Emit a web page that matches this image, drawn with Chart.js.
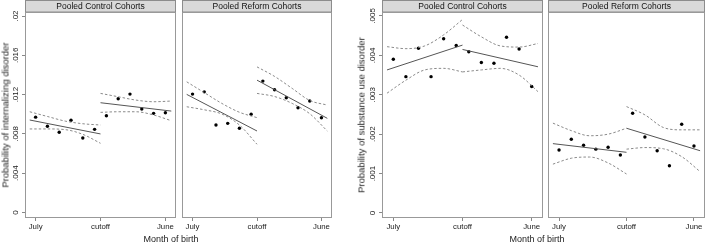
<!DOCTYPE html>
<html>
<head>
<meta charset="utf-8">
<script src="https://cdn.jsdelivr.net/npm/chart.js@4"></script>
<style>
  body { margin: 0; background: #fff; }
  #wrap { position: relative; width: 709px; height: 243px; font-family: "Liberation Sans", Arial, sans-serif; }
  #wrap canvas { position: absolute; left: 0; top: 0; }
  .ttl { position: absolute; font-size: 9px; color: #222; white-space: nowrap; transform: translate(-50%, -50%); }
  .rot { transform: translate(-50%, -50%) rotate(-90deg); font-size: 9.5px; }
</style>
</head>
<body>
<div id="wrap">
  <canvas id="c1" width="709" height="243"></canvas>
  <canvas id="c2" width="709" height="243"></canvas>
  <canvas id="c3" width="709" height="243"></canvas>
  <canvas id="c4" width="709" height="243"></canvas>
  <div class="ttl rot" style="left:5px; top:115px;">Probability of internalizing disorder</div>
  <div class="ttl rot" style="left:361px; top:115px;">Probability of substance use disorder</div>
  <div class="ttl" style="left:171px; top:239px;">Month of birth</div>
  <div class="ttl" style="left:537px; top:239px;">Month of birth</div>
</div>
<script>
// months: July = 1 ... June = 12, cutoff between Dec and Jan
const months = [1, 2, 3, 4, 5, 6, 7, 8, 9, 10, 11, 12];
const xTickVals = [1, 6.5, 12];
const xTickLabels = ['July', 'cutoff', 'June'];

// x positions where fit lines / confidence bands were read
const fitX1 = [0.5, 6.5];
const fitX2 = [6.5, 12.5];
const bandX1 = [0.5, 2, 3.5, 5, 6.5];
const bandX2 = [6.5, 8, 9.5, 11, 12.5];

// internalizing disorder
const intTickVals = [0, 0.004, 0.008, 0.012, 0.016, 0.02];
const intTickLabels = ['0', '.004', '.008', '.012', '.016', '.02'];

const ctrlIntPts = [0.0097, 0.00877, 0.00816, 0.00938, 0.00758, 0.00846, 0.00985, 0.01157, 0.01205, 0.01053, 0.01009, 0.01015];
const ctrlIntFit1 = [0.00941, 0.00799];
const ctrlIntFit2 = [0.01117, 0.01032];
const ctrlIntHi1 = [0.01025, 0.00977, 0.0093, 0.00903, 0.0089];
const ctrlIntLo1 = [0.0085, 0.0085, 0.00843, 0.00795, 0.00704];
const ctrlIntHi2 = [0.01212, 0.01178, 0.01144, 0.01127, 0.01134];
const ctrlIntLo2 = [0.01019, 0.01025, 0.01025, 0.00992, 0.00934];

const refIntPts = [0.01205, 0.01228, 0.0089, 0.00907, 0.00857, 0.00999, 0.01337, 0.01249, 0.01167, 0.01066, 0.01134, 0.00964];
const refIntFit1 = [0.01202, 0.00829];
const refIntFit2 = [0.01347, 0.00958];
const refIntHi1 = [0.0133, 0.0122, 0.0111, 0.0102, 0.00965];
const refIntLo1 = [0.01076, 0.01045, 0.01002, 0.0089, 0.00694];
const refIntHi2 = [0.01482, 0.01385, 0.01263, 0.0114, 0.01093];
const refIntLo2 = [0.01212, 0.0118, 0.0111, 0.01005, 0.00829];

// substance use disorder
const subTickVals = [0, 0.001, 0.002, 0.003, 0.004, 0.005];
const subTickLabels = ['0', '.001', '.002', '.003', '.004', '.005'];

const ctrlSubPts = [0.0039, 0.00346, 0.00418, 0.00346, 0.00442, 0.00425, 0.00409, 0.00382, 0.0038, 0.00446, 0.00416, 0.00321];
const ctrlSubFit1 = [0.00363, 0.00426];
const ctrlSubFit2 = [0.00415, 0.00371];
const ctrlSubHi1 = [0.00422, 0.00417, 0.00424, 0.00452, 0.00491];
const ctrlSubLo1 = [0.00304, 0.00337, 0.00363, 0.00367, 0.00358];
const ctrlSubHi2 = [0.00477, 0.00447, 0.00424, 0.00421, 0.0043];
const ctrlSubLo2 = [0.00358, 0.00363, 0.00367, 0.0035, 0.00308];

const refSubPts = [0.0016, 0.00187, 0.00172, 0.00162, 0.00167, 0.00147, 0.00253, 0.00193, 0.00158, 0.0012, 0.00225, 0.0017];
const refSubFit1 = [0.00176, 0.00154];
const refSubFit2 = [0.00215, 0.00158];
const refSubHi1 = [0.00228, 0.00209, 0.00196, 0.002, 0.00215];
const refSubLo1 = [0.00124, 0.00139, 0.00142, 0.00127, 0.00099];
const refSubHi2 = [0.0027, 0.00249, 0.00217, 0.00211, 0.00211];
const refSubLo2 = [0.00162, 0.00166, 0.00163, 0.00143, 0.00105];

Chart.defaults.font.family = '"Liberation Sans", Arial, sans-serif';
Chart.defaults.color = '#222';

const toXY = (xs, ys) => xs.map((x, i) => ({ x: x, y: ys[i] }));

// grey strip with the panel name + box round the plot region
const panelFrame = {
  id: 'panelFrame',
  afterDraw(chart, args, opts) {
    const ctx = chart.ctx;
    const a = chart.chartArea;
    ctx.save();
    ctx.fillStyle = '#d9d9d9';
    ctx.fillRect(a.left, 0, a.right - a.left, a.top);
    ctx.lineWidth = 1;
    ctx.strokeStyle = '#8c8c8c';
    ctx.strokeRect(a.left + 0.5, 0.5, a.right - a.left - 1, a.top - 0.5);
    ctx.strokeStyle = '#999';
    ctx.strokeRect(a.left + 0.5, a.top + 0.5, a.right - a.left - 1, a.bottom - a.top - 1);
    ctx.fillStyle = '#111';
    ctx.font = '8.5px "Liberation Sans", Arial, sans-serif';
    ctx.textAlign = 'center';
    ctx.textBaseline = 'middle';
    ctx.fillText(opts.title, (a.left + a.right) / 2, a.top / 2 + 0.5);
    ctx.restore();
  }
};

const lineSet = (xs, ys, dashed) => ({
  data: toXY(xs, ys),
  showLine: true,
  pointRadius: 0,
  borderColor: dashed ? '#8a8a8a' : '#555',
  borderWidth: 1,
  borderDash: dashed ? [2.5, 2] : [],
  cubicInterpolationMode: dashed ? 'monotone' : 'default',
  fill: false
});

function makePanel(id, p) {
  new Chart(document.getElementById(id), {
    type: 'scatter',
    data: {
      datasets: [
        lineSet(bandX1, p.hi1, true),
        lineSet(bandX1, p.lo1, true),
        lineSet(bandX2, p.hi2, true),
        lineSet(bandX2, p.lo2, true),
        lineSet(fitX1, p.fit1, false),
        lineSet(fitX2, p.fit2, false),
        {
          data: toXY(months, p.pts),
          pointRadius: 1.7,
          pointBackgroundColor: '#000',
          pointBorderWidth: 0,
          showLine: false
        }
      ]
    },
    options: {
      responsive: false,
      animation: false,
      events: [],
      layout: { padding: { left: p.padLeft, right: p.padRight, top: 12, bottom: 0 } },
      plugins: {
        legend: { display: false },
        tooltip: { enabled: false },
        panelFrame: { title: p.title }
      },
      scales: {
        x: {
          type: 'linear', min: 0.1, max: 12.9,
          afterBuildTicks: s => { s.ticks = xTickVals.map(v => ({ value: v })); },
          afterFit: s => { s.height = 25; },
          ticks: { autoSkip: false, maxRotation: 0, padding: 1, font: { size: 7.8 }, color: '#222',
                   callback: (v, i) => xTickLabels[i] },
          grid: { drawOnChartArea: false, tickLength: 3, color: '#888' },
          border: { display: false }
        },
        y: {
          display: p.showY,
          min: p.yMin, max: p.yMax,
          afterBuildTicks: s => { s.ticks = p.yVals.map(v => ({ value: v })); },
          afterFit: s => { if (p.showY) s.width = 25; },
          ticks: { minRotation: 90, maxRotation: 90, crossAlign: 'center', padding: -2, font: { size: 8 }, color: '#222',
                   callback: (v, i) => p.yLabels[i] },
          grid: { drawOnChartArea: false, tickLength: 3, color: '#888' },
          border: { display: false }
        }
      }
    },
    plugins: [panelFrame]
  });
}

makePanel('c1', { title: 'Pooled Control Cohorts', showY: true, padLeft: 0, padRight: 709 - 176,
  yMin: -0.00057, yMax: 0.02041, yVals: intTickVals, yLabels: intTickLabels,
  pts: ctrlIntPts, fit1: ctrlIntFit1, fit2: ctrlIntFit2, hi1: ctrlIntHi1, lo1: ctrlIntLo1, hi2: ctrlIntHi2, lo2: ctrlIntLo2 });

makePanel('c2', { title: 'Pooled Reform Cohorts', showY: false, padLeft: 182, padRight: 709 - 332,
  yMin: -0.00057, yMax: 0.02041, yVals: intTickVals, yLabels: intTickLabels,
  pts: refIntPts, fit1: refIntFit1, fit2: refIntFit2, hi1: refIntHi1, lo1: refIntLo1, hi2: refIntHi2, lo2: refIntLo2 });

makePanel('c3', { title: 'Pooled Control Cohorts', showY: true, padLeft: 382 - 25, padRight: 709 - 543,
  yMin: -0.000127, yMax: 0.0051, yVals: subTickVals, yLabels: subTickLabels,
  pts: ctrlSubPts, fit1: ctrlSubFit1, fit2: ctrlSubFit2, hi1: ctrlSubHi1, lo1: ctrlSubLo1, hi2: ctrlSubHi2, lo2: ctrlSubLo2 });

makePanel('c4', { title: 'Pooled Reform Cohorts', showY: false, padLeft: 548, padRight: 1,
  yMin: -0.000127, yMax: 0.0051, yVals: subTickVals, yLabels: subTickLabels,
  pts: refSubPts, fit1: refSubFit1, fit2: refSubFit2, hi1: refSubHi1, lo1: refSubLo1, hi2: refSubHi2, lo2: refSubLo2 });
</script>
</body>
</html>
